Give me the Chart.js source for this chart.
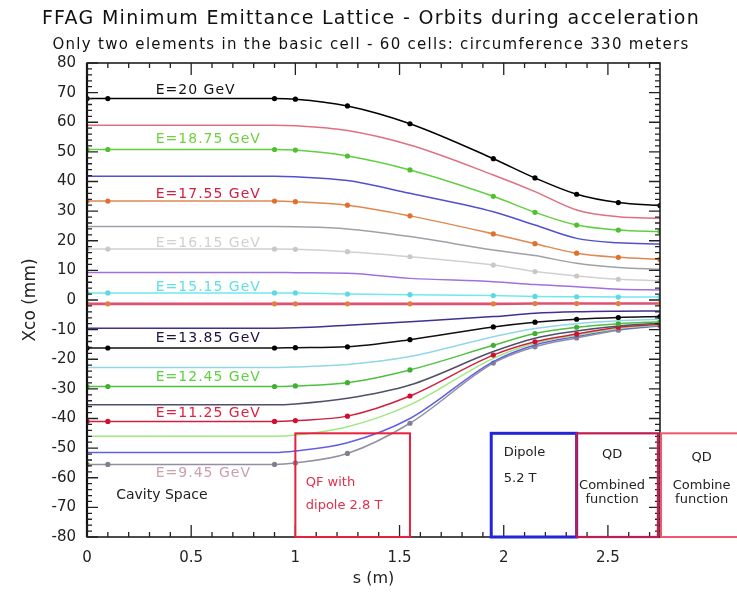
<!DOCTYPE html>
<html><head><meta charset="utf-8">
<script src="https://cdn.jsdelivr.net/npm/chart.js@4.4.1/dist/chart.umd.min.js"></script>
<style>html,body{margin:0;padding:0;background:#fff}#wrap{width:737px;height:595px;position:relative}</style>
</head><body><div id="wrap"><canvas id="c" width="737" height="595"></canvas></div>
<script>
// ---------- DATA ----------
const sPositions = [0, 0.1, 0.9, 1.0, 1.25, 1.55, 1.95, 2.15, 2.35, 2.55, 2.75];
const orbit01 = [68.0, 68.0, 68.0, 67.8, 65.5, 59.5, 47.7, 41.2, 35.7, 32.9, 31.9];
const orbit02 = [59.0, 59.0, 59.0, 58.8, 57.2, 52.3, 42.2, 36.6, 30.4, 28.1, 27.6];
const orbit03 = [50.8, 50.8, 50.8, 50.6, 48.6, 43.9, 35.0, 29.6, 25.3, 23.6, 23.1];
const orbit04 = [41.8, 41.8, 41.8, 41.6, 40.3, 36.0, 29.8, 25.3, 20.8, 19.3, 18.9];
const orbit05 = [33.4, 33.4, 33.4, 33.2, 32.0, 28.4, 22.3, 19.0, 15.8, 14.4, 13.7];
const orbit06 = [24.8, 24.8, 24.8, 24.7, 24.0, 21.4, 16.9, 15.0, 12.4, 11.0, 10.4];
const orbit07 = [17.2, 17.2, 17.2, 17.1, 16.3, 14.6, 11.8, 9.6, 8.1, 7.0, 6.5];
const orbit08 = [9.3, 9.3, 9.3, 9.2, 9.0, 7.3, 6.2, 5.2, 4.5, 3.6, 3.4];
const orbit09 = [2.4, 2.4, 2.4, 2.4, 2.0, 1.8, 1.5, 1.2, 1.1, 1.0, 1.0];
const orbit10 = [-1.3, -1.3, -1.3, -1.3, -1.3, -1.3, -1.3, -1.2, -1.2, -1.2, -1.2];
const orbit11 = [-9.5, -9.5, -9.5, -9.4, -8.5, -7.3, -5.6, -4.5, -4.0, -3.8, -3.7];
const orbit12 = [-16.2, -16.2, -16.2, -16.1, -15.8, -13.4, -9.1, -7.5, -6.5, -5.9, -5.6];
const orbit13 = [-22.8, -22.8, -22.8, -22.6, -21.8, -19.1, -12.4, -9.6, -8.0, -7.0, -6.5];
const orbit14 = [-29.2, -29.2, -29.2, -29.0, -27.9, -23.6, -15.3, -11.3, -9.2, -8.0, -7.3];
const orbit15 = [-35.4, -35.4, -35.4, -35.1, -33.2, -28.7, -17.4, -12.9, -10.5, -8.8, -7.8];
const orbit16 = [-41.0, -41.0, -41.0, -40.7, -39.2, -32.4, -18.6, -14.1, -11.5, -9.2, -8.2];
const orbit17 = [-46.0, -46.0, -46.0, -45.6, -42.8, -35.4, -19.7, -14.6, -11.9, -9.6, -8.4];
const orbit18 = [-51.5, -51.5, -51.5, -51.0, -48.2, -40.0, -20.8, -15.2, -12.3, -9.9, -8.6];
const orbit19 = [-55.5, -55.5, -55.5, -55.0, -51.8, -41.6, -21.3, -15.8, -12.8, -10.2, -8.8];
const orbitNames = ['E=20 GeV', '', 'E=18.75 GeV', '', 'E=17.55 GeV', '', 'E=16.15 GeV', '', 'E=15.15 GeV', '',
  '', 'E=13.85 GeV', '', 'E=12.45 GeV', '', 'E=11.25 GeV', '', '', 'E=9.45 GeV'];
const xTickValues = [0, 0.5, 1, 1.5, 2, 2.5];
const yTickValues = [-80, -70, -60, -50, -40, -30, -20, -10, 0, 10, 20, 30, 40, 50, 60, 70, 80];

// ---------- STYLE ----------
const orbits = [orbit01, orbit02, orbit03, orbit04, orbit05, orbit06, orbit07, orbit08, orbit09, orbit10,
  orbit11, orbit12, orbit13, orbit14, orbit15, orbit16, orbit17, orbit18, orbit19];
const lineColors = ['#000000', '#e07080', '#60d040', '#5050d0', '#e08850', '#a0a0a8', '#d0d0d0', '#a070e0', '#70e8f0', '#e05070',
  '#403090', '#101010', '#90d8e8', '#50c040', '#505068', '#d02040', '#a0e880', '#6060e0', '#9090a0'];
const pointColors = ['#000000', null, '#50c030', null, '#e07030', null, '#c8c8c8', null, '#60d8e0', '#e08040',
  null, '#000000', null, '#40b030', null, '#d01030', null, null, '#808090'];
const labelColors = {0:'#111111', 2:'#70d040', 4:'#d02040', 6:'#d0d0d0', 8:'#60e0e8', 11:'#201040', 13:'#60d040', 15:'#e02040', 18:'#c8a0b0'};
const labelPix = {0:-8, 2:-10, 4:-7, 6:-6, 8:-6, 11:-10, 13:-9, 15:-8, 18:9};

const datasets = orbits.map((arr, i) => ({
  label: orbitNames[i] || ('orbit ' + (i + 1)),
  data: sPositions.map((s, k) => ({x: s, y: arr[k]})),
  borderColor: lineColors[i],
  backgroundColor: pointColors[i] || lineColors[i],
  borderWidth: i === 9 ? 2.6 : 1.5,
  pointRadius: pointColors[i] ? 2.6 : 0,
  pointBackgroundColor: pointColors[i] || lineColors[i],
  pointBorderColor: pointColors[i] || lineColors[i],
  pointBorderWidth: 0,
  cubicInterpolationMode: 'monotone',
  fill: false
}));

const FONT = 'DejaVu Sans';

const decor = {
  id: 'decor',
  afterDatasetsDraw(chart) {
    const ctx = chart.ctx, a = chart.chartArea, xs = chart.scales.x, ys = chart.scales.y;
    ctx.save();
    // frame
    ctx.strokeStyle = '#111'; ctx.lineWidth = 1.5;
    ctx.strokeRect(a.left, a.top, a.right - a.left, a.bottom - a.top);
    ctx.lineWidth = 2.2; ctx.beginPath(); ctx.moveTo(a.left, a.top); ctx.lineTo(a.left, a.bottom); ctx.stroke();
    // inward ticks
    ctx.lineWidth = 1.3; ctx.strokeStyle = '#222';
    ctx.beginPath();
    for (let v = -80; v <= 80; v += 2) {
      const y = ys.getPixelForValue(v);
      const L = (v % 10 === 0) ? 11 : 5;
      ctx.moveTo(a.left, y); ctx.lineTo(a.left + L, y);
      ctx.moveTo(a.right, y); ctx.lineTo(a.right - L, y);
    }
    for (let k = 0; k <= 27; k++) {
      const v = k / 10;
      const x = xs.getPixelForValue(v);
      const L = (k % 5 === 0) ? 12 : 5;
      ctx.moveTo(x, a.bottom); ctx.lineTo(x, a.bottom - L);
      ctx.moveTo(x, a.top); ctx.lineTo(x, a.top + L);
    }
    ctx.stroke();

    // magnet boxes
    const boxes = [
      {x0: 1.0, x1: 1.55, color: '#e8203c', w: 2},
      {x0: 1.94, x1: 2.35, color: '#2424d8', w: 3},
      {x0: 2.35, x1: 2.74, color: '#c01c50', w: 2.2},
      {x0: 2.755, x1: 3.2, color: '#f05870', w: 2}
    ];
    boxes.forEach(b => {
      const x0 = xs.getPixelForValue(b.x0), x1 = xs.getPixelForValue(b.x1);
      const y0 = ys.getPixelForValue(-45), y1 = ys.getPixelForValue(-80);
      ctx.strokeStyle = b.color; ctx.lineWidth = b.w;
      ctx.strokeRect(x0, y0, x1 - x0, y1 - y0);
    });

    // annotation texts
    const notes = [
      {s: 0.14, v: -66, t: 'Cavity Space', c: '#222', al: 'left', f: 14},
      {s: 1.05, v: -61.5, t: 'QF with', c: '#e0304a', al: 'left', f: 13},
      {s: 1.05, v: -69.3, t: 'dipole 2.8 T', c: '#e0304a', al: 'left', f: 13},
      {s: 2.0, v: -51.5, t: 'Dipole', c: '#222', al: 'left', f: 13},
      {s: 2.0, v: -60.3, t: '5.2 T', c: '#222', al: 'left', f: 13},
      {s: 2.52, v: -52.3, t: 'QD', c: '#222', al: 'center', f: 13},
      {s: 2.52, v: -62.5, t: 'Combined', c: '#222', al: 'center', f: 13},
      {s: 2.52, v: -67.3, t: 'function', c: '#222', al: 'center', f: 13},
      {s: 2.95, v: -53.3, t: 'QD', c: '#222', al: 'center', f: 13},
      {s: 2.95, v: -62.5, t: 'Combine', c: '#222', al: 'center', f: 13},
      {s: 2.95, v: -67.3, t: 'function', c: '#222', al: 'center', f: 13}
    ];
    ctx.textBaseline = 'middle';
    notes.forEach(n => {
      ctx.font = n.f + 'px "' + FONT + '"';
      ctx.fillStyle = n.c; ctx.textAlign = n.al;
      ctx.fillText(n.t, xs.getPixelForValue(n.s), ys.getPixelForValue(n.v));
    });

    // energy labels
    ctx.font = '14px "' + FONT + '"';
    ctx.letterSpacing = '1px';
    ctx.textAlign = 'left';
    Object.keys(labelColors).forEach(k => {
      const i = +k;
      ctx.fillStyle = labelColors[i];
      ctx.fillText(orbitNames[i], xs.getPixelForValue(0.33), ys.getPixelForValue(orbits[i][0]) + labelPix[i]);
    });

    // titles
    ctx.fillStyle = '#111'; ctx.textAlign = 'center';
    ctx.font = '19px "' + FONT + '"';
    ctx.letterSpacing = '1.3px';
    ctx.fillText('FFAG Minimum Emittance Lattice - Orbits during acceleration', 371, 19);
    ctx.font = '15px "' + FONT + '"';
    ctx.letterSpacing = '1.3px';
    ctx.fillText('Only two elements in the basic cell - 60 cells: circumference 330 meters', 371, 45);
    ctx.letterSpacing = '0px';
    ctx.restore();
  }
};

new Chart(document.getElementById('c'), {
  type: 'line',
  data: {datasets},
  options: {
    responsive: false, animation: false, devicePixelRatio: 1,
    layout: {padding: {left: 0, right: 77, top: 63, bottom: 0}},
    plugins: {legend: {display: false}, tooltip: {enabled: false}, title: {display: false}},
    scales: {
      x: {
        type: 'linear', min: 0, max: 2.75,
        afterBuildTicks: s => { s.ticks = xTickValues.map(v => ({value: v})); },
        afterFit: s => { s.height = 58; },
        grid: {display: false}, border: {display: false},
        ticks: {font: {family: FONT, size: 15}, color: '#222', padding: 4, maxRotation: 0, autoSkip: false,
          callback: v => String(v)},
        title: {display: true, text: 's (m)', font: {family: FONT, size: 16}, color: '#222', padding: {top: 0, bottom: 7}}
      },
      y: {
        type: 'linear', min: -80, max: 80,
        afterBuildTicks: s => { s.ticks = yTickValues.map(v => ({value: v})); },
        afterFit: s => { s.width = 87; },
        grid: {display: false, drawTicks: false}, border: {display: false},
        ticks: {font: {family: FONT, size: 15}, color: '#222', padding: 11, autoSkip: false},
        title: {display: true, text: 'Xco (mm)', font: {family: FONT, size: 17}, color: '#222', padding: {top: 20, bottom: 0}}
      }
    }
  },
  plugins: [decor]
});
</script>
</body></html>
